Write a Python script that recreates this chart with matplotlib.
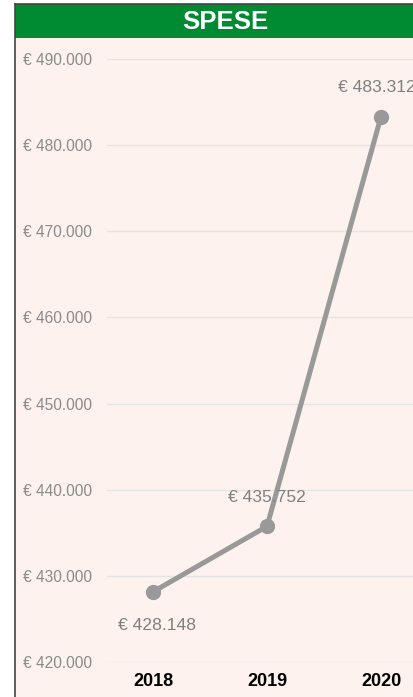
import matplotlib.pyplot as plt
from matplotlib.patches import Rectangle
from matplotlib.lines import Line2D

# data
years = [2018, 2019, 2020]
spese = [428148, 435752, 483312]
year_labels = ["2018", "2019", "2020"]
y_ticks = [420000, 430000, 440000, 450000, 460000, 470000, 480000, 490000]

plt.rcParams['font.family'] = ['Liberation Sans', 'DejaVu Sans']

W, H = 414, 697
fig = plt.figure(figsize=(W / 100, H / 100), dpi=100)
fig.patch.set_facecolor('white')

# background panel + green header
fig.add_artist(Rectangle((15 / W, 0), 1, (H - 4) / H, transform=fig.transFigure,
                         facecolor='#fdf2ee', edgecolor='none', zorder=0))
fig.add_artist(Rectangle((15 / W, 1 - 38 / H), 1, 34 / H, transform=fig.transFigure,
                         facecolor='#008a32', edgecolor='none', zorder=1))
fig.add_artist(Line2D([14.5 / W, 14.5 / W], [0, 1 - 3.5 / H], transform=fig.transFigure,
                      color='#444444', lw=1.2, zorder=2))
fig.add_artist(Line2D([14.5 / W, 1], [1 - 3.5 / H, 1 - 3.5 / H], transform=fig.transFigure,
                      color='#444444', lw=1.2, zorder=2))
fig.text(225 / W, 1 - 22 / H, "SPESE", color='white', fontsize=18.5, fontweight='bold',
         ha='center', va='center')

ax = fig.add_axes([107 / W, 1 - 662 / H, (W - 107) / W, (662 - 59) / H])
ax.set_facecolor('none')
for s in ax.spines.values():
    s.set_visible(False)

ax.plot(years, spese, color='#999999', lw=3.6, marker='o', markersize=10,
        solid_capstyle='round', clip_on=False, zorder=3)

ax.set_xlim(2018 - 46 / 114, 2018 + 261 / 114)
ax.set_ylim(420000, 490000)
ax.set_yticks(y_ticks)
ax.set_yticklabels(["€ " + f"{v:,}".replace(",", ".") for v in y_ticks])
ax.yaxis.grid(True, color='#e4e4e4', lw=1)
ax.set_axisbelow(True)
ax.tick_params(axis='y', length=0, pad=60.5, labelsize=11.2, labelcolor='#8a8a8a')
for lbl in ax.get_yticklabels():
    lbl.set_horizontalalignment('left')

ax.set_xticks(years)
ax.set_xticklabels(year_labels, fontweight='bold', fontsize=13)
ax.tick_params(axis='x', length=0, pad=8)

# data labels
offsets = [(3, -24), (0, 21), (-3, 21)]
for x, y, (dx, dy) in zip(years, spese, offsets):
    ax.annotate("€ " + f"{y:,}".replace(",", "."), (x, y), xytext=(dx, dy),
                textcoords='offset points', ha='center', va='center',
                fontsize=12.6, color='#808080', annotation_clip=False)

fig.savefig('out.png', dpi=100)
